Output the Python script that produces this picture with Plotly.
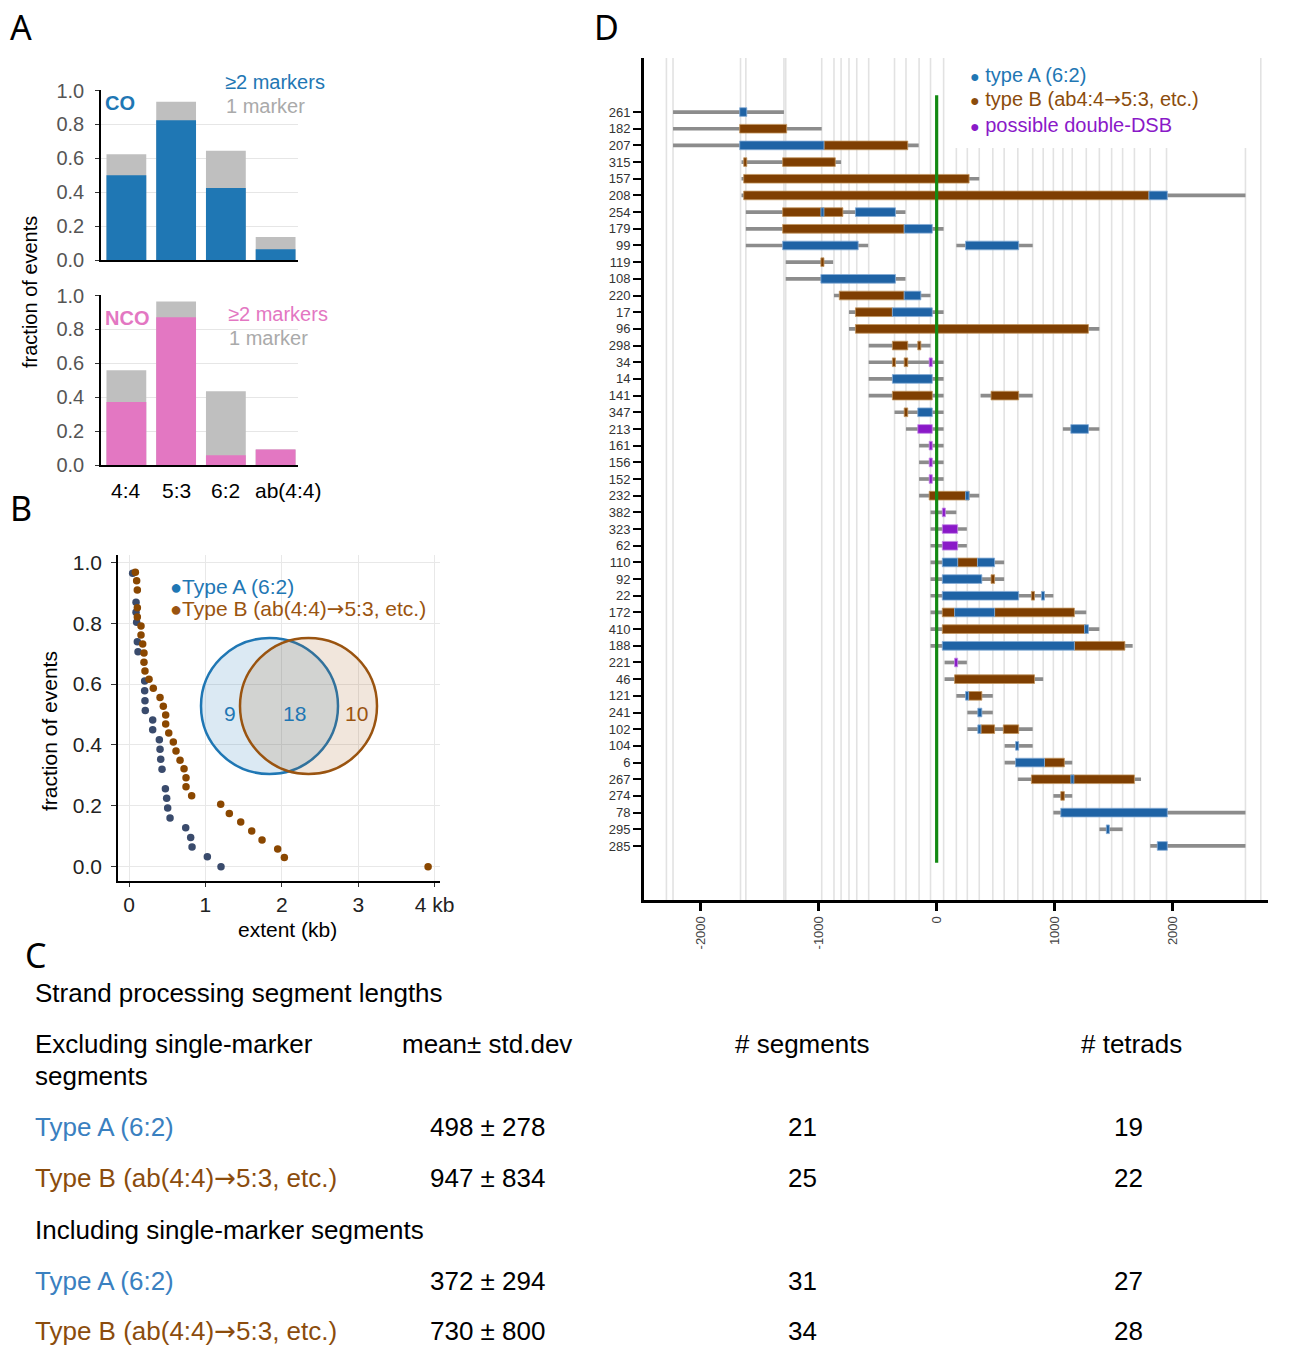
import plotly.graph_objects as go

# Figure fills the whole 1293x1346 window (the page's default body margin is
# removed after the plot is drawn); positions below are window pixels.
W, H = 1293, 1346
def px(x): return x / W
def py(y): return 1 - y / H

FONT = "Liberation Sans, Arial, sans-serif"
LETTER_FONT = "Noto Sans, Open Sans, sans-serif"
ARROW = '<span style="font-family:DejaVu Sans">\u2192</span>'

# ---------------- Panel A data ----------------
a_categories = ["4:4", "5:3", "6:2", "ab(4:4)"]
co_total = [0.624, 0.933, 0.645, 0.135]
co_multi = [0.500, 0.824, 0.425, 0.063]
nco_total = [0.559, 0.965, 0.435, 0.092]
nco_multi = [0.371, 0.871, 0.057, 0.092]

# ---------------- Panel B data ----------------
typeA_extent = [0.048, 0.092, 0.092, 0.100, 0.109, 0.118, 0.205, 0.205, 0.209, 0.213,
                0.310, 0.310, 0.397, 0.406, 0.415, 0.432, 0.476, 0.493, 0.506, 0.537,
                0.742, 0.807, 0.825, 1.025, 1.204]
typeA_frac = [0.964, 0.869, 0.836, 0.803, 0.739, 0.706, 0.610, 0.578, 0.545, 0.513,
              0.482, 0.450, 0.417, 0.386, 0.353, 0.320, 0.256, 0.225, 0.193, 0.160,
              0.128, 0.096, 0.065, 0.033, 0.000]
typeB_extent = [0.083, 0.100, 0.109, 0.109, 0.109, 0.157, 0.157, 0.179, 0.196, 0.196,
                0.209, 0.262, 0.318, 0.406, 0.449, 0.480, 0.480, 0.520, 0.580, 0.615,
                0.668, 0.720, 0.746, 0.746, 0.820, 1.200, 1.313, 1.462, 1.606, 1.741,
                1.946, 2.033, 3.914]
typeB_frac = [0.967, 0.939, 0.909, 0.851, 0.820, 0.791, 0.761, 0.732, 0.702, 0.672,
              0.643, 0.616, 0.586, 0.556, 0.527, 0.498, 0.469, 0.439, 0.410, 0.380,
              0.350, 0.322, 0.292, 0.263, 0.233, 0.205, 0.175, 0.147, 0.117, 0.088,
              0.058, 0.030, 0.000]
venn_only_a, venn_both, venn_only_b = 9, 18, 10

# ---------------- Panel C data ----------------
c_types = ["Type A (6:2)", "Type B (ab(4:4)" + ARROW + "5:3, etc.)"]
c_excl_mean = ["498 \u00b1 278", "947 \u00b1 834"]
c_excl_segments = [21, 25]
c_excl_tetrads = [19, 22]
c_incl_mean = ["372 \u00b1 294", "730 \u00b1 800"]
c_incl_segments = [31, 34]
c_incl_tetrads = [27, 28]

# ---------------- Panel D data ----------------
d_ids = [261, 182, 207, 315, 157, 208, 254, 179, 99, 119, 108, 220, 17, 96, 298, 34, 14,
         141, 347, 213, 161, 156, 152, 232, 382, 323, 62, 110, 92, 22, 172, 410, 188, 221,
         46, 121, 241, 102, 104, 6, 267, 274, 78, 295, 285]
d_markers = [-2290, -2234, -1662, -1617, -1294, -1279, -974, -870, -810, -743, -677, -576,
             -357, -260, -149, -52, 59, 167, 260, 361, 476, 572, 688, 814, 903, 989, 1070,
             1149, 1268, 1379, 1483, 1576, 1676, 1810, 1948, 2617, 2747]
d_tested = [(261, -2234, -1294), (182, -2234, -974), (207, -2234, -152), (315, -1654, -810),
            (157, -1654, 361), (208, -1654, 2617), (254, -1617, -264), (179, -1617, 59),
            (99, -1617, -580), (99, 167, 814), (119, -1279, -877), (108, -1279, -264),
            (220, -870, -52), (17, -743, 59), (96, -743, 1379), (298, -576, -52),
            (34, -576, 59), (14, -576, 59), (141, -576, 59), (141, 372, 814),
            (347, -357, 59), (213, -260, 59), (213, 1070, 1379), (161, -149, 59),
            (156, -149, 59), (152, -149, 59), (232, -149, 361), (382, -52, 167),
            (323, -52, 256), (62, -52, 256), (110, -52, 572), (92, -52, 572),
            (22, -52, 989), (172, -52, 1268), (410, -52, 1379), (188, -52, 1661),
            (221, 67, 256), (46, 67, 903), (121, 167, 476), (241, 260, 476),
            (102, 260, 814), (104, 576, 814), (6, 576, 1149), (267, 688, 1732),
            (274, 989, 1149), (78, 989, 2617), (295, 1379, 1576), (285, 1810, 2617)]
d_typeB = [(182, -1669, -1271), (207, -955, -245), (315, -1635, -1609), (315, -1305, -859),
           (157, -1635, 275), (208, -1635, 1799), (254, -1305, -795), (179, -1305, -275),
           (119, -981, -955), (220, -825, -275), (17, -688, -375), (96, -688, 1286),
           (298, -375, -245), (298, -160, -134), (34, -375, -349), (34, -275, -245),
           (141, -375, -37), (141, 461, 695), (347, -275, -245), (232, -63, 275),
           (110, 178, 346), (92, 461, 491), (22, 803, 829), (172, 48, 152), (172, 491, 1167),
           (410, 48, 1268), (188, 1167, 1595), (46, 152, 829), (121, 271, 383),
           (102, 375, 491), (102, 565, 695), (6, 914, 1082), (267, 803, 1676),
           (274, 1052, 1082)]
d_typeA = [(261, -1669, -1609), (207, -1669, -955), (208, 1799, 1955), (254, -981, -955),
           (254, -688, -349), (179, -275, -37), (99, -1305, -665), (99, 245, 695),
           (108, -981, -349), (220, -275, -134), (17, -375, -37), (14, -375, -37),
           (347, -160, -37), (213, 1137, 1286), (232, 245, 275), (110, 48, 178),
           (110, 346, 491), (92, 48, 383), (22, 48, 695), (22, 888, 914), (172, 152, 491),
           (410, 1253, 1286), (188, 48, 1167), (121, 245, 271), (241, 349, 383),
           (102, 349, 375), (104, 669, 695), (6, 669, 914), (267, 1137, 1163),
           (78, 1052, 1955), (295, 1438, 1464), (285, 1870, 1955)]
d_double_dsb = [(34, -63, -37), (213, -160, -37), (161, -63, -37), (156, -63, -37),
                (152, -63, -37), (382, 48, 74), (323, 48, 178), (62, 48, 178),
                (221, 152, 178)]
d_xticks = [-2000, -1000, 0, 1000, 2000]

# ---------------- colours ----------------
BLUE = "#1f77b4"
PINK = "#e377c2"
LGRAY = "#bfbfbf"
D_BLUE = "#1f63a5"
D_BROWN = "#7f3f02"
D_PURPLE = "#8a19c8"
D_GRAY = "#8c8c8c"
B_DARK = "#3a4b6c"
B_BROWN = "#8a4700"
T_BLUE = "#3a80c0"
T_BROWN = "#8b4c0c"

fig = go.Figure()

# ---------- Panel A bars ----------
for (tot, mul, col, xa, ya) in [(co_total, co_multi, BLUE, "x", "y"),
                                (nco_total, nco_multi, PINK, "x2", "y2")]:
    fig.add_trace(go.Bar(x=a_categories, y=tot, width=0.8, marker=dict(color=LGRAY, line=dict(width=0)),
                         xaxis=xa, yaxis=ya, showlegend=False, hoverinfo="skip"))
    fig.add_trace(go.Bar(x=a_categories, y=mul, width=0.8, marker=dict(color=col, line=dict(width=0)),
                         xaxis=xa, yaxis=ya, showlegend=False, hoverinfo="skip"))

# ---------- Panel B scatter ----------
fig.add_trace(go.Scatter(x=typeA_extent, y=typeA_frac, mode="markers",
                         marker=dict(color=B_DARK, size=7.5), xaxis="x3", yaxis="y3",
                         showlegend=False, hoverinfo="skip"))
fig.add_trace(go.Scatter(x=typeB_extent, y=typeB_frac, mode="markers",
                         marker=dict(color=B_BROWN, size=7.5), xaxis="x3", yaxis="y3",
                         showlegend=False, hoverinfo="skip"))

# ---------- Panel D ----------
row_index = {rid: i for i, rid in enumerate(d_ids)}
Y_TOP, Y_BOT = -3.24, 47.24
LEG_Y = 2.16  # marker gridlines right of the legend start below it

def seg_bars(segs, color, width, line_color=None, line_width=0):
    return go.Bar(orientation="h",
                  y=[row_index[r] for r, _, _ in segs],
                  x=[e - s for _, s, e in segs],
                  base=[s for _, s, _ in segs],
                  width=width,
                  marker=dict(color=color, line=dict(color=line_color or color, width=line_width)),
                  xaxis="x4", yaxis="y4", showlegend=False, hoverinfo="skip")

fig.add_trace(seg_bars(d_tested, D_GRAY, 0.22))
fig.add_trace(seg_bars(d_typeB, D_BROWN, 0.52, "#c29560", 0.8))
fig.add_trace(seg_bars(d_typeA, D_BLUE, 0.52, "#86acd6", 0.8))
fig.add_trace(seg_bars(d_double_dsb, D_PURPLE, 0.52, "#c58be6", 0.8))
fig.add_trace(go.Scatter(x=[0, 0], y=[-1, 45], mode="lines", line=dict(color="#138a13", width=3.2),
                         xaxis="x4", yaxis="y4", showlegend=False, hoverinfo="skip"))

# ---------- axes ----------
def a_yaxis(dom):
    return dict(domain=dom, range=[0, 1.003], tickvals=[0, 0.2, 0.4, 0.6, 0.8, 1.0],
                ticktext=["0.0", "0.2", "0.4", "0.6", "0.8", "1.0"],
                tickfont=dict(family=FONT, size=20, color="#555555"),
                ticks="outside", ticklen=4, tickcolor="#333", tickwidth=1,
                showline=True, linecolor="black", linewidth=1.5,
                showgrid=True, gridcolor="#e6e6e6", gridwidth=1, zeroline=False,
                ticklabelstandoff=7, automargin=False)

xa_dom = [px(101), px(298)]
layout = dict(
    template="none",
    width=W, height=H, margin=dict(l=0, r=0, t=0, b=0, pad=0), autosize=False,
    paper_bgcolor="white", plot_bgcolor="white", barmode="overlay", showlegend=False,
    font=dict(family=FONT, color="black"),
    xaxis=dict(domain=xa_dom, anchor="y", range=[-0.51, 3.45], showticklabels=False, ticks="",
               showline=True, linecolor="black", linewidth=1.5, showgrid=False, zeroline=False,
               categoryorder="array", categoryarray=a_categories, automargin=False),
    yaxis=dict(anchor="x", **a_yaxis([py(260), py(90)])),
    xaxis2=dict(domain=xa_dom, anchor="y2", range=[-0.51, 3.45], ticks="",
                showticklabels=False,
                showline=True, linecolor="black", linewidth=1.5, showgrid=False, zeroline=False,
                categoryorder="array", categoryarray=a_categories, automargin=False),
    yaxis2=dict(anchor="x2", **a_yaxis([py(465), py(295)])),
    xaxis3=dict(domain=[px(118), px(440)], anchor="y3", range=[-0.144, 4.07],
                tickvals=[0, 1, 2, 3, 4], ticktext=["0", "1", "2", "3", "4 kb"], tickangle=0,
                tickfont=dict(family=FONT, size=21, color="#222"),
                ticks="outside", ticklen=4, tickcolor="#333",
                showline=True, linecolor="black", linewidth=1.5,
                showgrid=True, gridcolor="#e8e8e8", zeroline=False, ticklabelstandoff=0,
                automargin=False),
    yaxis3=dict(domain=[py(881), py(555)], anchor="x3", range=[-0.047, 1.024],
                tickvals=[0, 0.2, 0.4, 0.6, 0.8, 1.0],
                ticktext=["0.0", "0.2", "0.4", "0.6", "0.8", "1.0"],
                tickfont=dict(family=FONT, size=21, color="#222"),
                ticks="outside", ticklen=5, tickcolor="#333",
                showline=True, linecolor="black", linewidth=1.5,
                showgrid=True, gridcolor="#e8e8e8", zeroline=False, ticklabelstandoff=5,
                automargin=False),
    xaxis4=dict(domain=[px(644), px(1268)], anchor="y4", range=[-2480, 2808],
                tickvals=d_xticks, ticktext=[str(v) for v in d_xticks], tickangle=-90,
                tickfont=dict(family=FONT, size=13, color="#444"),
                ticks="outside", ticklen=8, tickwidth=3, tickcolor="black",
                showline=True, linecolor="black", linewidth=3,
                showgrid=False, zeroline=False, automargin=False),
    yaxis4=dict(domain=[py(900), py(58)], anchor="x4", range=[Y_BOT, Y_TOP],
                tickvals=list(range(len(d_ids))), ticktext=[str(i) for i in d_ids],
                tickfont=dict(family=FONT, size=13, color="#333"),
                ticks="outside", ticklen=8, tickwidth=2, tickcolor="black",
                showline=True, linecolor="black", linewidth=3,
                showgrid=False, zeroline=False, automargin=False),
)
fig.update_layout(**layout)

# ---------- marker gridlines of panel D (below the bars) ----------
for m in d_markers:
    y0 = Y_TOP if (m < 100 or m > 2700) else LEG_Y
    fig.add_shape(type="line", xref="x4", yref="y4", x0=m, x1=m, y0=y0, y1=Y_BOT,
                  line=dict(color="#e2e2e2", width=1.6), layer="below")

# ---------- shapes (Venn) ----------
fig.add_shape(type="circle", xref="paper", yref="paper",
              x0=px(201), x1=px(338), y0=py(774), y1=py(638),
              fillcolor="rgba(31,119,180,0.16)", line=dict(color=BLUE, width=2.5))
fig.add_shape(type="circle", xref="paper", yref="paper",
              x0=px(240), x1=px(377), y0=py(774), y1=py(638),
              fillcolor="rgba(160,90,20,0.15)", line=dict(color="#9a5410", width=2.5))

# ---------- annotations ----------
ann = []
def text(x, y, s, size, color="black", anchor="left", family=FONT, bold=False, angle=0):
    if bold:
        s = "<b>" + s + "</b>"
    ann.append(dict(x=px(x), y=py(y), xref="paper", yref="paper", text=s, showarrow=False,
                    xanchor=anchor, yanchor="middle", textangle=angle,
                    font=dict(family=family, size=size, color=color)))

def bullet(size):
    return '<span style="font-size:%dpx">\u25cf</span>' % size

# category labels of panel A (placed on the category positions of the NCO axis)
for i, cat in enumerate(a_categories):
    ann.append(dict(x=cat, xref="x2", y=py(490), yref="paper", text=cat, showarrow=False,
                    xanchor="center", yanchor="middle", xshift=13 if i == 3 else 0,
                    font=dict(family=FONT, size=21, color="black")))

# panel letters
text(8, 27, "A", 34, family=LETTER_FONT)
text(8, 508, "B", 34, family=LETTER_FONT)
text(23, 955, "C", 34, family=LETTER_FONT)
text(592, 27, "D", 34, family=LETTER_FONT)

# panel A
text(103, 103, "CO", 20, BLUE, bold=True)
text(223, 82, "\u22652 markers", 20, BLUE)
text(224, 106, "1 marker", 20, "#aaaaaa")
text(103, 318, "NCO", 20, PINK, bold=True)
text(226, 314, "\u22652 markers", 20, PINK)
text(227, 338, "1 marker", 20, "#aaaaaa")
text(30, 292, "fraction of events", 20, anchor="center", angle=-90)

# panel B
text(168, 586, bullet(20) + "Type A (6:2)", 21, BLUE)
text(168, 609, bullet(20) + "Type B (ab(4:4)" + ARROW + "5:3, etc.)", 21, "#9a5410")
text(230, 713, str(venn_only_a), 21, BLUE, anchor="center")
text(294, 713, str(venn_both), 21, BLUE, anchor="center")
text(357, 713, str(venn_only_b), 21, "#9a5410", anchor="center")
text(49, 731, "fraction of events", 21, anchor="center", angle=-90)
text(287, 929, "extent (kb)", 21, anchor="center")

# panel C
TS = 26
text(33, 993, "Strand processing segment lengths", TS)
text(33, 1044, "Excluding single-marker", TS)
text(33, 1076, "segments", TS)
text(400, 1044, "mean\u00b1 std.dev", TS)
text(802, 1044, "# segments", TS, anchor="center")
text(1131, 1044, "# tetrads", TS, anchor="center")
text(33, 1230, "Including single-marker segments", TS)
row_y_excl = [1127, 1178]
row_y_incl = [1281, 1331]
tcols = [T_BLUE, T_BROWN]
for i in range(2):
    text(33, row_y_excl[i], c_types[i], TS, tcols[i])
    text(487, row_y_excl[i], c_excl_mean[i], TS, anchor="center")
    text(802, row_y_excl[i], str(c_excl_segments[i]), TS, anchor="center")
    text(1128, row_y_excl[i], str(c_excl_tetrads[i]), TS, anchor="center")
    text(33, row_y_incl[i], c_types[i], TS, tcols[i])
    text(487, row_y_incl[i], c_incl_mean[i], TS, anchor="center")
    text(802, row_y_incl[i], str(c_incl_segments[i]), TS, anchor="center")
    text(1128, row_y_incl[i], str(c_incl_tetrads[i]), TS, anchor="center")

# panel D legend
text(968, 75, bullet(16) + " type A (6:2)", 20, BLUE)
text(968, 99, bullet(16) + " type B (ab4:4" + ARROW + "5:3, etc.)", 20, "#8b4c0c")
text(968, 125, bullet(16) + " possible double-DSB", 20, D_PURPLE)

fig.update_layout(annotations=ann)
fig.write_html("out.html", config={"displayModeBar": False},
               post_script="document.body.style.margin='0px';document.body.style.overflow='hidden';")
